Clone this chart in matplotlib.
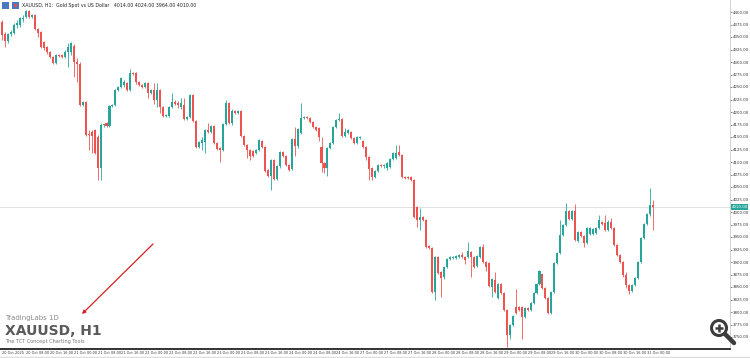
import numpy as np
import matplotlib
matplotlib.use("Agg")
import matplotlib.pyplot as plt
import matplotlib.transforms as mtransforms
from matplotlib.patches import Circle, Rectangle

# hourly XAUUSD candles
opens = [4380, 4356, 4342, 4356, 4358, 4374, 4374, 4386, 4390, 4402,
         4390, 4394, 4366, 4360, 4340, 4330, 4320, 4310, 4298, 4314,
         4314, 4310, 4320, 4320, 4332, 4300, 4296, 4214, 4220, 4156,
         4160, 4164, 4150, 4088, 4174, 4178, 4172, 4212, 4214, 4244,
         4250, 4254, 4258, 4244, 4278, 4278, 4260, 4254, 4250, 4258,
         4238, 4244, 4224, 4244, 4210, 4192, 4192, 4210, 4220, 4218,
         4210, 4214, 4186, 4190, 4234, 4182, 4130, 4138, 4140, 4164,
         4160, 4172, 4138, 4128, 4124, 4176, 4218, 4178, 4202, 4198,
         4202, 4152, 4134, 4124, 4122, 4118, 4124, 4142, 4130, 4084,
         4072, 4104, 4066, 4092, 4120, 4112, 4094, 4086, 4146, 4132,
         4158, 4188, 4190, 4188, 4180, 4170, 4168, 4130, 4098, 4088,
         4128, 4138, 4170, 4184, 4186, 4152, 4158, 4160, 4148, 4138,
         4148, 4142, 4130, 4110, 4088, 4070, 4082, 4094, 4092, 4088,
         4090, 4106, 4108, 4120, 4114, 4070, 4070, 4070, 4064, 4010,
         3984, 3990, 3984, 3932, 3928, 3840, 3910, 3880, 3870, 3890,
         3906, 3908, 3908, 3910, 3914, 3910, 3910, 3920, 3910, 3892,
         3910, 3930, 3900, 3898, 3850, 3864, 3828, 3856, 3838, 3804,
         3754, 3774, 3810, 3810, 3810, 3790, 3808, 3804, 3818, 3838,
         3856, 3876, 3848, 3828, 3798, 3840, 3898, 3918, 3954, 3974,
         4002, 3986, 4002, 3942, 3960, 3952, 3938, 3956, 3956, 3958,
         3968, 3980, 3978, 3964, 3980, 3968, 3934, 3914, 3900, 3874,
         3854, 3842, 3854, 3868, 3900, 3948, 3976, 3996, 4014]
closes = [4354, 4342, 4356, 4360, 4374, 4378, 4388, 4388, 4402, 4390,
          4394, 4366, 4358, 4330, 4328, 4320, 4310, 4298, 4314, 4313,
          4310, 4320, 4330, 4338, 4300, 4296, 4214, 4220, 4154, 4154,
          4152, 4118, 4088, 4174, 4175, 4172, 4212, 4214, 4244, 4250,
          4268, 4260, 4244, 4278, 4276, 4260, 4254, 4250, 4258, 4238,
          4244, 4224, 4244, 4210, 4192, 4194, 4210, 4220, 4216, 4214,
          4218, 4186, 4190, 4234, 4182, 4130, 4140, 4144, 4164, 4160,
          4172, 4138, 4126, 4124, 4176, 4218, 4178, 4202, 4198, 4202,
          4152, 4134, 4124, 4112, 4112, 4124, 4144, 4130, 4082, 4072,
          4104, 4066, 4092, 4120, 4112, 4094, 4084, 4146, 4132, 4166,
          4188, 4190, 4188, 4180, 4170, 4164, 4150, 4098, 4088, 4128,
          4138, 4170, 4184, 4186, 4152, 4160, 4164, 4148, 4138, 4150,
          4150, 4130, 4110, 4086, 4070, 4082, 4094, 4092, 4094, 4098,
          4106, 4118, 4118, 4114, 4070, 4068, 4068, 4064, 3990, 3984,
          3990, 3984, 3930, 3928, 3840, 3910, 3878, 3868, 3890, 3906,
          3910, 3910, 3912, 3914, 3910, 3904, 3922, 3910, 3890, 3912,
          3930, 3900, 3890, 3852, 3866, 3840, 3856, 3838, 3804, 3754,
          3774, 3792, 3798, 3804, 3790, 3808, 3804, 3818, 3838, 3856,
          3882, 3848, 3828, 3798, 3840, 3898, 3918, 3954, 3974, 4002,
          3986, 4002, 3944, 3960, 3952, 3938, 3968, 3968, 3966, 3968,
          3984, 3976, 3964, 3980, 3968, 3934, 3914, 3900, 3874, 3854,
          3842, 3854, 3868, 3900, 3948, 3976, 3996, 4014, 4010]
highs = [4384, 4360, 4358, 4364, 4378, 4384, 4390, 4394, 4404, 4404,
         4396, 4396, 4368, 4362, 4342, 4332, 4322, 4312, 4316, 4316,
         4316, 4324, 4338, 4340, 4336, 4308, 4300, 4222, 4222, 4164,
         4164, 4166, 4154, 4178, 4176, 4180, 4214, 4216, 4246, 4252,
         4270, 4264, 4260, 4286, 4280, 4280, 4262, 4256, 4260, 4260,
         4246, 4258, 4258, 4246, 4212, 4196, 4212, 4238, 4224, 4222,
         4228, 4228, 4192, 4236, 4236, 4184, 4142, 4150, 4166, 4178,
         4174, 4174, 4140, 4130, 4178, 4224, 4220, 4206, 4204, 4204,
         4204, 4154, 4136, 4126, 4124, 4126, 4146, 4144, 4132, 4086,
         4106, 4106, 4094, 4122, 4122, 4114, 4096, 4148, 4170, 4168,
         4218, 4192, 4192, 4190, 4182, 4172, 4170, 4150, 4100, 4130,
         4140, 4172, 4186, 4198, 4188, 4168, 4166, 4162, 4150, 4152,
         4152, 4144, 4132, 4112, 4090, 4084, 4096, 4096, 4096, 4100,
         4108, 4120, 4134, 4134, 4116, 4072, 4072, 4072, 4066, 4012,
         4008, 3992, 3986, 3934, 3930, 3912, 3912, 3882, 3892, 3908,
         3912, 3912, 3914, 3916, 3920, 3912, 3940, 3922, 3912, 3914,
         3932, 3936, 3902, 3900, 3868, 3880, 3858, 3858, 3840, 3806,
         3776, 3794, 3846, 3812, 3812, 3810, 3810, 3820, 3840, 3858,
         3884, 3878, 3850, 3830, 3842, 3900, 3920, 3984, 3976, 4018,
         4004, 4004, 4016, 3962, 3962, 3954, 3970, 3970, 3968, 3970,
         3994, 3982, 3994, 3984, 3988, 3970, 3936, 3916, 3902, 3880,
         3856, 3856, 3870, 3902, 3950, 3978, 3998, 4048, 4024]
lows = [4344, 4330, 4338, 4352, 4356, 4368, 4370, 4380, 4388, 4388,
        4388, 4364, 4350, 4328, 4324, 4316, 4308, 4296, 4296, 4310,
        4308, 4308, 4290, 4314, 4270, 4260, 4212, 4212, 4152, 4124,
        4118, 4116, 4064, 4064, 4170, 4170, 4170, 4210, 4212, 4242,
        4248, 4250, 4242, 4242, 4274, 4256, 4252, 4248, 4248, 4228,
        4236, 4216, 4210, 4198, 4190, 4190, 4190, 4208, 4214, 4208,
        4206, 4184, 4184, 4188, 4180, 4128, 4128, 4124, 4118, 4158,
        4158, 4136, 4124, 4100, 4122, 4174, 4176, 4174, 4196, 4196,
        4150, 4132, 4108, 4104, 4110, 4116, 4122, 4128, 4080, 4070,
        4044, 4064, 4064, 4088, 4110, 4092, 4082, 4084, 4112, 4128,
        4156, 4186, 4186, 4178, 4168, 4162, 4142, 4080, 4078, 4072,
        4126, 4136, 4168, 4182, 4150, 4150, 4156, 4146, 4136, 4136,
        4146, 4128, 4104, 4064, 4064, 4068, 4080, 4090, 4088, 4084,
        4088, 4104, 4106, 4112, 4068, 4066, 4066, 4062, 3988, 3970,
        3964, 3982, 3928, 3926, 3838, 3824, 3876, 3830, 3866, 3888,
        3904, 3906, 3906, 3908, 3908, 3896, 3908, 3870, 3888, 3890,
        3908, 3898, 3882, 3850, 3830, 3838, 3826, 3836, 3802, 3730,
        3746, 3772, 3796, 3802, 3746, 3788, 3802, 3802, 3816, 3836,
        3854, 3846, 3826, 3796, 3796, 3838, 3896, 3916, 3952, 3972,
        3984, 3984, 3942, 3940, 3950, 3930, 3936, 3954, 3954, 3956,
        3966, 3974, 3962, 3962, 3966, 3932, 3912, 3898, 3870, 3848,
        3836, 3840, 3852, 3866, 3898, 3946, 3974, 3992, 3964]

# one label every 8 bars
tick_labels = ["20 Oct 2025", "20 Oct 08:00", "20 Oct 16:00", "21 Oct 00:00",
               "21 Oct 08:00", "21 Oct 16:00", "22 Oct 00:00", "22 Oct 08:00",
               "22 Oct 16:00", "23 Oct 00:00", "23 Oct 08:00", "23 Oct 16:00",
               "24 Oct 00:00", "24 Oct 08:00", "24 Oct 16:00", "27 Oct 00:00",
               "27 Oct 08:00", "27 Oct 16:00", "28 Oct 00:00", "28 Oct 08:00",
               "28 Oct 16:00", "29 Oct 00:00", "29 Oct 08:00", "29 Oct 16:00",
               "30 Oct 00:00", "30 Oct 08:00", "30 Oct 16:00", "31 Oct 00:00"]
price_ticks = list(range(3750, 4401, 25))
last_price = closes[-1]

UP = "#26a69a"
DOWN = "#ef5350"

W, H = 750, 358
fig = plt.figure(figsize=(W / 100, H / 100), dpi=100)
fig.patch.set_facecolor("white")
ax = fig.add_axes([0, 9 / H, 730 / W, 349 / H])

o = np.array(opens, float)
c = np.array(closes, float)
hi = np.array(highs, float)
lo = np.array(lows, float)
x = np.arange(len(o))
cols = np.where(c >= o, UP, DOWN)

ax.vlines(x, lo, hi, colors=cols, linewidth=0.6, zorder=2)
body = np.maximum(np.abs(c - o), 1.5)
ax.bar(x, body, bottom=np.minimum(o, c), width=0.68, color=cols,
       linewidth=0, zorder=3)

ax.axhline(last_price, color="#dcdcdc", linewidth=0.6, zorder=1)

ax.set_xlim(-0.67, 243.8)
ax.set_ylim(3726, 4424)

ax.set_xticks(x[::8][:len(tick_labels)])
ax.set_xticklabels(tick_labels, fontsize=2.5, color="#333333", ha="left")
ax.tick_params(axis="x", length=0, pad=1.5)

ax.yaxis.tick_right()
ax.set_yticks(price_ticks)
ax.set_yticklabels([f"{p:.2f}" for p in price_ticks], fontsize=2.8,
                   color="#333333")
ax.tick_params(axis="y", length=1.5, width=0.5, color="#555555", pad=0.5)

for s in ["top", "left"]:
    ax.spines[s].set_visible(False)
ax.spines["right"].set_color("#cccccc")
ax.spines["right"].set_linewidth(0.6)
ax.spines["bottom"].set_color("#111111")
ax.spines["bottom"].set_linewidth(1.2)

# current price tag
trans = mtransforms.blended_transform_factory(ax.transAxes, ax.transData)
ax.text(1.002, last_price, f"{last_price:.2f}", transform=trans,
        fontsize=2.8, color="white", va="center", ha="left", clip_on=False,
        bbox=dict(boxstyle="square,pad=0.2", fc=UP, ec="none"), zorder=5)

# overlay in pixel units for header, watermark, arrow and zoom icon
ov = fig.add_axes([0, 0, 1, 1], facecolor="none")
ov.set_xlim(0, W)
ov.set_ylim(H, 0)
ov.axis("off")

ov.add_patch(Rectangle((2, 2), 7, 7, fc="#4a78c2", ec="none"))
ov.add_patch(Rectangle((12, 2), 7, 7, fc="#4a78c2", ec="none"))
ov.add_patch(Rectangle((14, 4), 3, 3, fc="#e05050", ec="none"))
ov.text(22, 5.5, "XAUUSD, H1:  Gold Spot vs US Dollar   4014.00 4024.00 3964.00 4010.00",
        fontsize=3.4, color="#222222", va="center", ha="left")

ov.text(5, 318, "TradingLabs 1D", fontsize=5, color="#8a8a8a", va="center")
ov.text(5, 331, "XAUUSD, H1", fontsize=10, fontweight="bold", color="#5a5a5a",
        va="center")
ov.text(5, 341.5, "The TCT Concept Charting Tools", fontsize=3.6,
        color="#777777", va="center")

ov.annotate("", xy=(80, 316), xytext=(155, 242),
            arrowprops=dict(arrowstyle="-|>", color="#d42222", lw=0.9,
                            mutation_scale=5))

ov.add_patch(Circle((719, 328), 7.5, fill=False, ec="#3c3c3c", lw=2.2))
ov.plot([715, 723], [328, 328], color="#3c3c3c", lw=1.8,
        solid_capstyle="butt")
ov.plot([719, 719], [324, 332], color="#3c3c3c", lw=1.8,
        solid_capstyle="butt")
ov.plot([725, 734], [334, 343], color="#3c3c3c", lw=3.2,
        solid_capstyle="round")

ov.plot([0, W], [356.5, 356.5], color="#dedede", lw=1)

fig.savefig("out.png", dpi=100, facecolor="white")
